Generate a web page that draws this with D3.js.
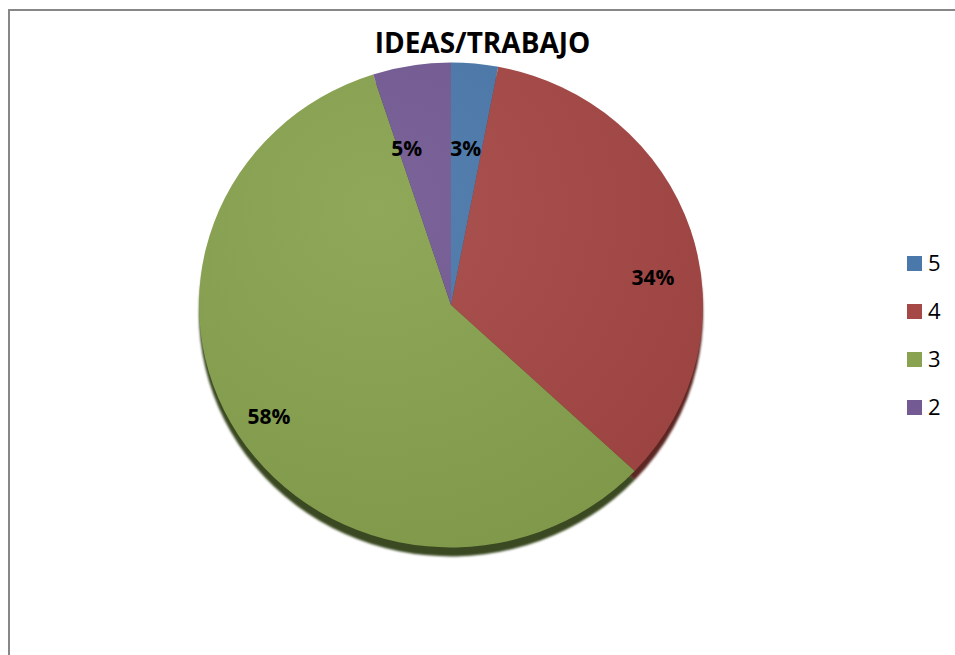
<!DOCTYPE html>
<html>
<head>
<meta charset="utf-8">
<script src="https://cdn.jsdelivr.net/npm/d3@7"></script>
<style>
  html, body { margin: 0; padding: 0; background: #fff; }
  svg { display: block; }
</style>
</head>
<body>
<svg id="chart" width="955" height="655"></svg>
<script>
// Chart data
const title = "IDEAS/TRABAJO";
const categories = ["5", "4", "3", "2"];
const values = [3, 34, 58, 5];
const colors = ["#4a78ab", "#a64846", "#88a24f", "#735a93"];
const shadowColors = ["#2c4868", "#5c2624", "#3a4a20", "#3e3052"];
// where each percentage label sits: fraction along its slice, and fraction of the radius
const labelAt = [0.48, 0.58, 0.5, 0.155];
const labelR = [0.65, 0.81, 0.855, 0.67];

const svg = d3.select("#chart");
const FONT = "'Open Sans', Lato, sans-serif";

// Chart frame (its right and bottom edges run past the visible area)
svg.append("rect")
  .attr("x", 9).attr("y", 10)
  .attr("width", 1000).attr("height", 1000)
  .attr("fill", "#fff")
  .attr("stroke", "#878787")
  .attr("stroke-width", 2);

// Title
svg.append("text")
  .attr("x", 482.5).attr("y", 52.5)
  .attr("text-anchor", "middle")
  .attr("font-family", FONT)
  .attr("font-weight", "bold")
  .attr("font-size", 28)
  .attr("fill", "#000")
  .text(title);

// Pie geometry: a slightly flattened disc
const cx = 451, cy = 305, R = 252, squash = 0.962;
const total = d3.sum(values);
const pie = d3.pie().sort(null).value(d => d.value);
const data = categories.map((c, i) => ({ name: c, value: values[i], i }));
const arcs = pie(data);
const arc = d3.arc().innerRadius(0).outerRadius(R);

const defs = svg.append("defs");
// soft lighting over the face
const light = defs.append("radialGradient")
  .attr("id", "light").attr("cx", "35%").attr("cy", "30%").attr("r", "75%");
light.append("stop").attr("offset", "0%").attr("stop-color", "#fff").attr("stop-opacity", 0.06);
light.append("stop").attr("offset", "100%").attr("stop-color", "#000").attr("stop-opacity", 0.06);
const blur = defs.append("filter").attr("id", "edgeBlur")
  .attr("x", "-5%").attr("y", "-5%").attr("width", "110%").attr("height", "110%");
blur.append("feGaussianBlur").attr("stdDeviation", 1.2);

// Disc edge beneath the face
const edge = svg.append("g")
  .attr("transform", `translate(${cx},${cy + 9}) scale(1,${squash})`)
  .attr("filter", "url(#edgeBlur)");
edge.selectAll("path").data(arcs).join("path")
  .attr("d", arc)
  .attr("fill", d => shadowColors[d.data.i]);

// Pie face
const face = svg.append("g")
  .attr("transform", `translate(${cx},${cy}) scale(1,${squash})`);
face.selectAll("path").data(arcs).join("path")
  .attr("d", arc)
  .attr("fill", d => colors[d.data.i]);
face.append("circle").attr("r", R).attr("fill", "url(#light)");

// Percentage labels
const pct = d3.format(".0%");
const labelAngle = d => d.startAngle + (d.endAngle - d.startAngle) * labelAt[d.data.i];
svg.append("g").selectAll("text").data(arcs).join("text")
  .attr("x", d => cx + Math.sin(labelAngle(d)) * R * labelR[d.data.i])
  .attr("y", d => cy - Math.cos(labelAngle(d)) * R * squash * labelR[d.data.i])
  .attr("dy", "0.36em")
  .attr("text-anchor", "middle")
  .attr("font-family", FONT)
  .attr("font-weight", "bold")
  .attr("font-size", 21)
  .attr("fill", "#000")
  .text(d => pct(d.data.value / total));

// Legend
const legend = svg.append("g").attr("transform", "translate(907,256)");
const rows = legend.selectAll("g").data(categories).join("g")
  .attr("transform", (d, i) => `translate(0,${i * 48})`);
rows.append("rect")
  .attr("width", 15).attr("height", 15)
  .attr("fill", (d, i) => colors[i]);
rows.append("text")
  .attr("x", 21).attr("y", 15)
  .attr("font-family", FONT)
  .attr("font-size", 22)
  .attr("fill", "#000")
  .text(d => d);
</script>
</body>
</html>
